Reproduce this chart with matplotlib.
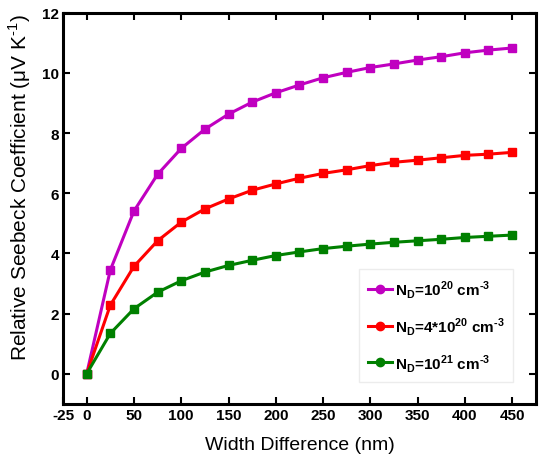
import matplotlib
matplotlib.use("Agg")
import matplotlib.pyplot as plt

# width difference (nm)
width_nm = [0, 25, 50, 75, 100, 125, 150, 175, 200, 225, 250, 275, 300, 325, 350, 375, 400, 425, 450]

# relative seebeck coefficient (uV/K) for each doping level
s_1e20 = [0, 3.45, 5.41, 6.63, 7.49, 8.13, 8.63, 9.03, 9.34, 9.60, 9.84, 10.02, 10.18, 10.30, 10.43, 10.54, 10.67, 10.76, 10.83]
s_4e20 = [0, 2.28, 3.57, 4.42, 5.04, 5.48, 5.81, 6.10, 6.31, 6.50, 6.66, 6.78, 6.92, 7.03, 7.10, 7.18, 7.26, 7.30, 7.36]
s_1e21 = [0, 1.34, 2.16, 2.71, 3.09, 3.38, 3.60, 3.77, 3.93, 4.05, 4.16, 4.24, 4.31, 4.37, 4.42, 4.47, 4.53, 4.57, 4.61]

labels = ['N$_\\mathregular{D}$=10$^\\mathregular{20}$ cm$^\\mathregular{\u20103}$',
          'N$_\\mathregular{D}$=4*10$^\\mathregular{20}$ cm$^\\mathregular{\u20103}$',
          'N$_\\mathregular{D}$=10$^\\mathregular{21}$ cm$^\\mathregular{\u20103}$']
colors = ['#c000c0', '#ff0000', '#008000']

xticks = [-25, 0, 50, 100, 150, 200, 250, 300, 350, 400, 450]
yticks = [0, 2, 4, 6, 8, 10, 12]

plt.rcParams['font.family'] = ['Liberation Sans', 'DejaVu Sans']
plt.rcParams['axes.unicode_minus'] = False

fig = plt.figure(figsize=(5.39, 4.6), dpi=100)
ax = fig.add_axes([0.117, 0.12, 0.877, 0.85])

for ys, c, lab in zip([s_1e20, s_4e20, s_1e21], colors, labels):
    ax.plot(width_nm, ys, color=c, lw=2.2, marker='s', ms=6, label=lab)

ax.set_xlim(-25, 475)
ax.set_ylim(-1, 12)
ax.set_xticks(xticks)
ax.set_yticks(yticks)
ax.tick_params(direction='in', length=5, width=1.5, top=True, right=True, labelsize=11, pad=3)
for lbl in ax.get_xticklabels() + ax.get_yticklabels():
    lbl.set_fontweight('bold')
for sp in ax.spines.values():
    sp.set_linewidth(2.2)

ax.set_xlabel('Width Difference (nm)', fontsize=14)
ax.xaxis.set_label_coords(0.5, -0.082)
ax.set_ylabel('Relative Seebeck Coefficient (\u03bcV K$^\\mathregular{\u20101}$)', fontsize=15)
ax.yaxis.set_label_coords(-0.063, 0.555)

leg = ax.legend(loc='lower right', bbox_to_anchor=(0.951, 0.056), borderaxespad=0,
                prop={'size': 11, 'weight': 'bold'},
                labelspacing=0.97, handlelength=1.6, handletextpad=0.15,
                fancybox=False, edgecolor='#e8e8e8', borderpad=0.55)
for h in leg.legend_handles:
    h.set_marker('o')

fig.savefig('out.png', dpi=100)
